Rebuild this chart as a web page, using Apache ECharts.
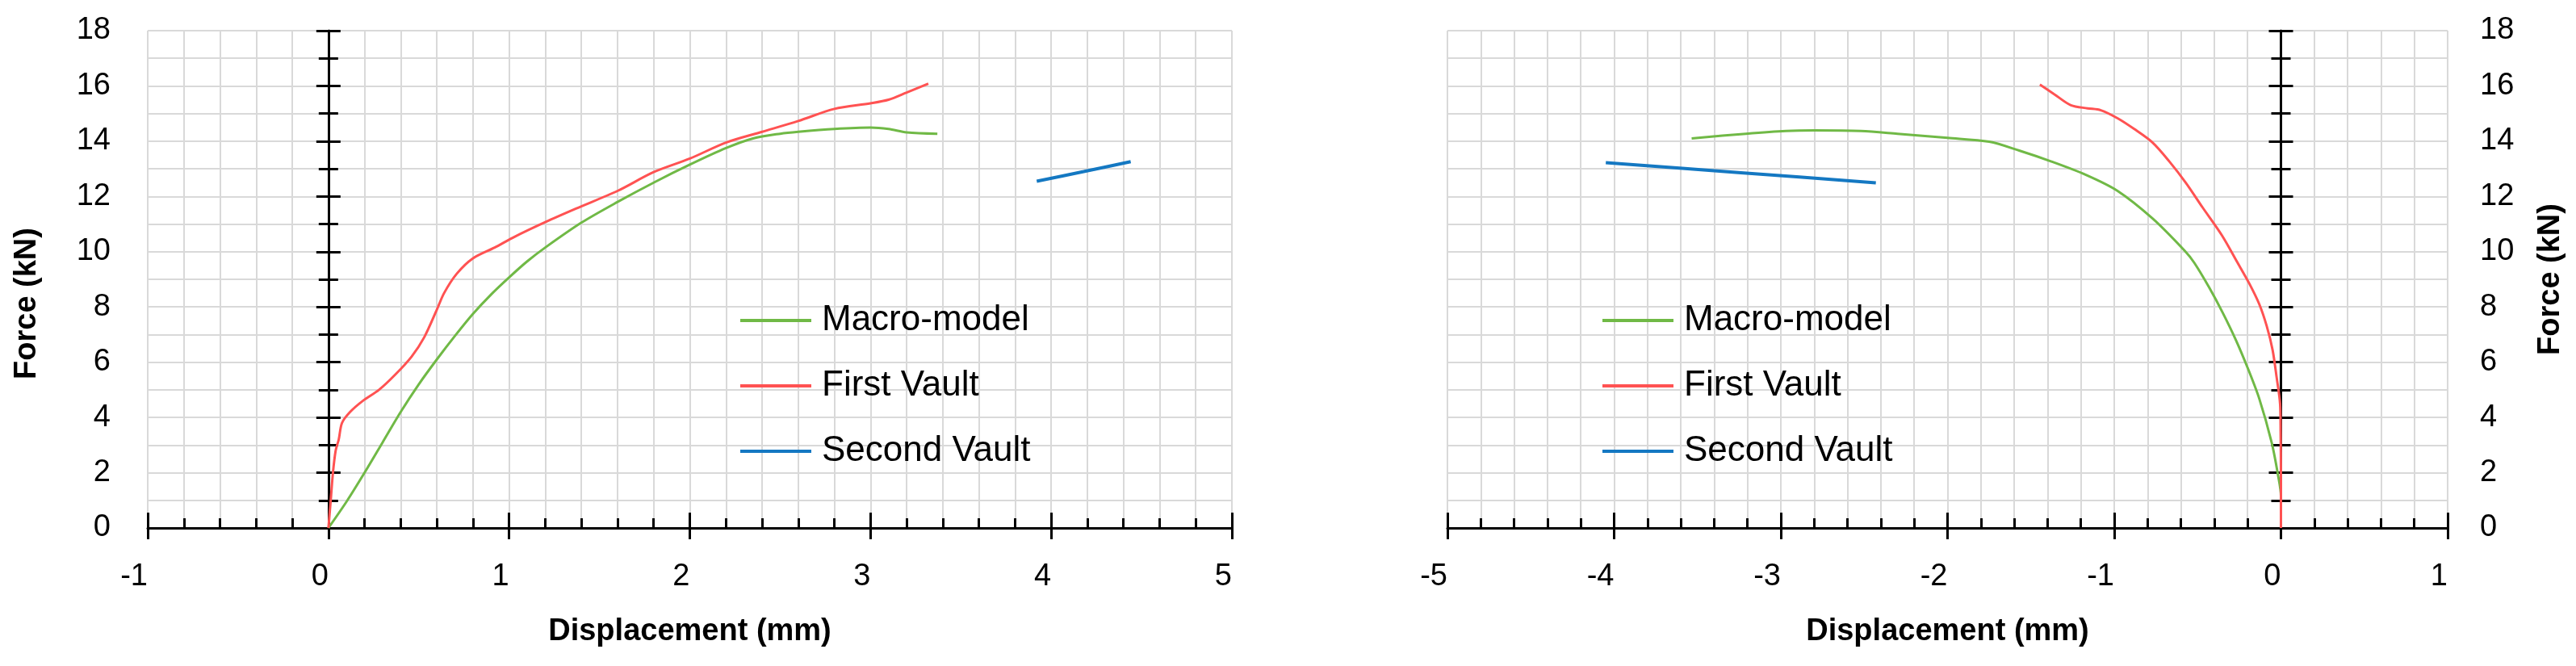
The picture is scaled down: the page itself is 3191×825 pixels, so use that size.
<!DOCTYPE html>
<html>
<head>
<meta charset="utf-8">
<title>Force - displacement</title>
<script src="https://cdn.jsdelivr.net/npm/echarts@6/dist/echarts.min.js"></script>
<style>
  html, body { margin: 0; padding: 0; background: #fff; }
  #chart { width: 3191px; height: 825px; }
</style>
</head>
<body>
<div id="chart"></div>
<script>
// series names and axis ranges
const seriesNames = ['Macro-model', 'First Vault', 'Second Vault'];
const seriesColors = ['#70b946', '#ff5252', '#1478c2'];
const leftRange = [-1, 5];
const rightRange = [-5, 1];
const forceRange = [0, 18];

// left panel: [displacement mm, force kN]
const macroLeft = [
  [0, 0], [0.1, 0.95], [0.2, 2.0], [0.3, 3.1], [0.4, 4.2], [0.5, 5.2], [0.6, 6.1],
  [0.7, 6.95], [0.8, 7.75], [0.9, 8.45], [1.0, 9.07], [1.1, 9.65], [1.2, 10.15],
  [1.4, 11.05], [1.6, 11.8], [1.8, 12.5], [2.0, 13.15], [2.2, 13.75], [2.35, 14.1],
  [2.5, 14.27], [2.6, 14.34], [2.8, 14.44], [3.0, 14.49], [3.1, 14.44], [3.2, 14.32],
  [3.37, 14.27]
];
const firstLeft = [
  [0, 0], [0.014, 1.1], [0.025, 2.0], [0.04, 2.8], [0.057, 3.2], [0.075, 3.8], [0.12, 4.2],
  [0.19, 4.6], [0.28, 5.0], [0.37, 5.55], [0.46, 6.2], [0.53, 6.9], [0.6, 7.9], [0.64, 8.5],
  [0.71, 9.2], [0.8, 9.76], [0.92, 10.15], [1.03, 10.54], [1.2, 11.07], [1.37, 11.56],
  [1.6, 12.2], [1.8, 12.88], [2.0, 13.37], [2.2, 13.95], [2.4, 14.34], [2.6, 14.73],
  [2.8, 15.17], [3.0, 15.37], [3.1, 15.5], [3.2, 15.76], [3.32, 16.08]
];
const secondLeft = [[3.92, 12.55], [4.18, 12.9], [4.44, 13.26]];

// right panel
const macroRight = [
  [0, 0], [0, 1.15], [-0.018, 1.93], [-0.056, 3.1], [-0.13, 4.68], [-0.2, 5.8], [-0.27, 6.8],
  [-0.35, 7.8], [-0.43, 8.7], [-0.52, 9.6], [-0.58, 10.05], [-0.77, 11.2], [-0.98, 12.2],
  [-1.17, 12.78], [-1.38, 13.27], [-1.57, 13.66], [-1.75, 13.98], [-2.0, 14.12], [-2.3, 14.27],
  [-2.52, 14.37], [-2.8, 14.39], [-2.97, 14.37], [-3.21, 14.27], [-3.535, 14.1]
];
const firstRight = [
  [0, 0], [0, 1.0], [0, 2.0], [-0.002, 3.5], [-0.005, 4.48], [-0.026, 5.46], [-0.05, 6.44],
  [-0.085, 7.3], [-0.13, 8.1], [-0.19, 8.85], [-0.26, 9.6], [-0.355, 10.6],
  [-0.47, 11.6], [-0.57, 12.49], [-0.67, 13.27], [-0.77, 13.95], [-0.88, 14.44], [-0.98, 14.83],
  [-1.08, 15.12], [-1.16, 15.19], [-1.26, 15.3], [-1.36, 15.7], [-1.446, 16.05]
];
const secondRight = [[-4.05, 13.22], [-3.24, 12.86], [-2.43, 12.49]];

const FONT = "'Liberation Sans', Arial, sans-serif";
const GRID_COLOR = '#d9d9d9';
const black = { color: '#000', width: 3 };

// axis with labels + outward ticks, and a twin with inward (crossing) ticks
function xAxes(gridIndex, range) {
  return [
    {
      gridIndex, type: 'value', min: range[0], max: range[1], interval: 1, position: 'bottom',
      axisLine: { onZero: false, lineStyle: black },
      axisTick: { inside: false, length: 14, lineStyle: black },
      minorTick: { show: false, splitNumber: 5 },
      axisLabel: { fontSize: 38, fontFamily: FONT, color: '#000', margin: 42, align: 'right' },
      splitLine: { lineStyle: { color: GRID_COLOR, width: 2 } },
      minorSplitLine: { show: true, lineStyle: { color: GRID_COLOR, width: 2 } },
      name: 'Displacement (mm)', nameLocation: 'middle', nameGap: 110,
      nameTextStyle: { fontSize: 38, fontWeight: 'bold', fontFamily: FONT, color: '#000' }
    },
    {
      gridIndex, type: 'value', min: range[0], max: range[1], interval: 1, position: 'bottom',
      axisLine: { show: false, onZero: false },
      axisTick: { inside: true, length: 19, lineStyle: black },
      minorTick: { show: true, splitNumber: 5, length: 12, lineStyle: black },
      axisLabel: { show: false },
      splitLine: { show: false }
    }
  ];
}

function yAxes(gridIndex, side, zeroIndex, nameGap, namePadding) {
  const base = { gridIndex, type: 'value', min: forceRange[0], max: forceRange[1], interval: 2 };
  return [
    Object.assign({}, base, {
      position: side,
      axisLine: { show: false, onZero: false },
      axisTick: { show: false },
      minorTick: { show: false, splitNumber: 2 },
      axisLabel: { fontSize: 38, fontFamily: FONT, color: '#000', margin: side === 'left' ? 46 : 40 },
      splitLine: { lineStyle: { color: GRID_COLOR, width: 2 } },
      minorSplitLine: { show: true, lineStyle: { color: GRID_COLOR, width: 2 } },
      name: 'Force (kN)', nameLocation: 'middle', nameGap: nameGap,
      nameTextStyle: { fontSize: 38, fontWeight: 'bold', fontFamily: FONT, color: '#000', padding: namePadding }
    }),
    Object.assign({}, base, {
      position: 'left',
      axisLine: { show: true, onZero: true, onZeroAxisIndex: zeroIndex, lineStyle: black },
      axisTick: { inside: false, length: 15, lineStyle: black },
      minorTick: { show: true, splitNumber: 2, length: 12, lineStyle: black },
      axisLabel: { show: false },
      splitLine: { show: false }
    }),
    Object.assign({}, base, {
      position: 'left',
      axisLine: { show: false, onZero: true, onZeroAxisIndex: zeroIndex },
      axisTick: { inside: true, length: 15, lineStyle: black },
      minorTick: { show: true, splitNumber: 2, length: 12, lineStyle: black },
      axisLabel: { show: false },
      splitLine: { show: false }
    })
  ];
}

function line(i, data, xi, yi) {
  return {
    type: 'line', name: seriesNames[i], data: data,
    xAxisIndex: xi, yAxisIndex: yi,
    symbol: 'none', smooth: 0.3,
    lineStyle: { color: seriesColors[i], width: i === 2 ? 4 : 3 },
    itemStyle: { color: seriesColors[i] }
  };
}

function legend(left) {
  return {
    orient: 'vertical', left: left, top: 370,
    icon: 'rect', itemWidth: 88, itemHeight: 4, itemGap: 37,
    selectedMode: false,
    data: seriesNames,
    textStyle: { fontSize: 44, fontFamily: FONT, color: '#000', padding: [0, 0, 0, 8] }
  };
}

const chart = echarts.init(document.getElementById('chart'), null, { renderer: 'canvas' });
chart.setOption({
  animation: false,
  backgroundColor: '#fff',
  grid: [
    { left: 183, top: 38, width: 1343, height: 616 },
    { left: 1793, top: 38, width: 1239, height: 616 }
  ],
  legend: [legend(912), legend(1980)],
  xAxis: xAxes(0, leftRange).concat(xAxes(1, rightRange)),
  yAxis: yAxes(0, 'left', 0, 130, [0, 60, 0, 0]).concat(yAxes(1, 'right', 2, 109, 0)),
  series: [
    line(0, macroLeft, 0, 0),
    line(1, firstLeft, 0, 0),
    line(2, secondLeft, 0, 0),
    line(0, macroRight, 2, 3),
    line(1, firstRight, 2, 3),
    line(2, secondRight, 2, 3)
  ]
});
</script>
</body>
</html>
